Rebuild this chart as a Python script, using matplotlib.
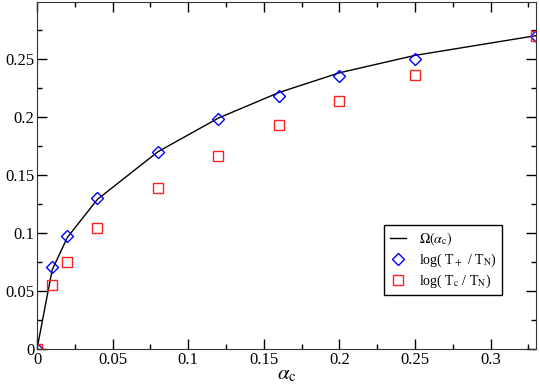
import matplotlib
matplotlib.use("Agg")
import matplotlib.pyplot as plt
from matplotlib.ticker import MultipleLocator, FormatStrFormatter

alpha_c = [0, 0.01, 0.02, 0.04, 0.08, 0.12, 0.16, 0.2, 0.25, 0.33]
omega = [0, 0.068, 0.096, 0.129, 0.170, 0.199, 0.221, 0.238, 0.253, 0.270]
log_tplus = [0, 0.071, 0.097, 0.130, 0.170, 0.198, 0.218, 0.235, 0.250, 0.270]
log_tc = [0, 0.055, 0.075, 0.104, 0.139, 0.166, 0.193, 0.214, 0.236, 0.270]

plt.rcParams["font.family"] = ["Liberation Serif", "DejaVu Serif"]
plt.rcParams["mathtext.fontset"] = "stix"

fig = plt.figure(figsize=(5.4, 3.91), dpi=100)
ax = fig.add_axes([37 / 540, 42 / 391, 499 / 540, 347 / 391])

ax.plot(alpha_c, omega, color="black", lw=1, label=r"$\Omega(\alpha_{\rm c})$")
ax.plot(alpha_c, log_tplus, ls="none", marker="D", ms=6.5, mfc="none",
        mec="#0000ff", mew=1, label=r"log( T$_+$ / T$_{\rm N}$)")
ax.plot(alpha_c, log_tc, ls="none", marker="s", ms=6.5, mfc="none",
        mec="#ff2020", mew=1, label=r"log( T$_{\rm c}$ / T$_{\rm N}$)")

ax.set_xlim(0, 0.33)
ax.set_ylim(0, 0.299)
ax.xaxis.set_major_locator(MultipleLocator(0.05))
ax.xaxis.set_minor_locator(MultipleLocator(0.025))
ax.yaxis.set_major_locator(MultipleLocator(0.05))
ax.yaxis.set_minor_locator(MultipleLocator(0.025))
ax.xaxis.set_major_formatter(FormatStrFormatter("%g"))
ax.yaxis.set_major_formatter(FormatStrFormatter("%g"))
ax.tick_params(which="both", direction="in", top=True, right=True,
               labelsize=12, width=1, pad=2)
ax.tick_params(which="major", length=7)
ax.tick_params(which="minor", length=3.5)
for s in ax.spines.values():
    s.set_color("#333333")

ax.set_xlabel(r"$\alpha_{\rm c}$", fontsize=15, labelpad=-2)

leg = ax.legend(loc="upper left", bbox_to_anchor=(384 / 540, 1 - 225 / 391),
                bbox_transform=fig.transFigure, fontsize=10, fancybox=False,
                framealpha=1, edgecolor="black", handlelength=1.2,
                borderpad=0.4, labelspacing=0.25, handletextpad=0.9,
                borderaxespad=0)
leg.get_frame().set_linewidth(1)

fig.savefig("out.png", dpi=100)
